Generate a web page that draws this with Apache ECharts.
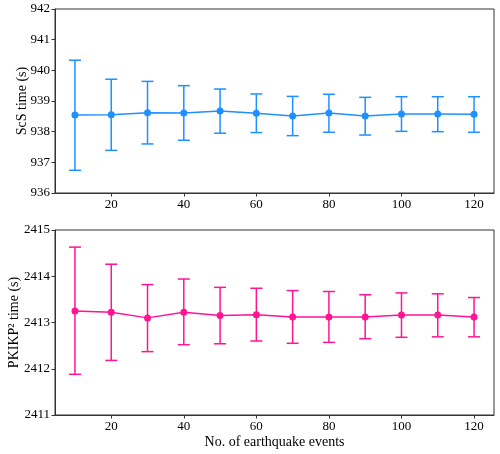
<!DOCTYPE html>
<html>
<head>
<meta charset="utf-8">
<script src="https://cdn.jsdelivr.net/npm/echarts@6/dist/echarts.min.js"></script>
<style>html,body{margin:0;padding:0;background:#fff;}#c{width:500px;height:454px;}</style>
</head>
<body>
<div id="c"></div>
<script>
var events = [10, 20, 30, 40, 50, 60, 70, 80, 90, 100, 110, 120];
var xTicks = [20, 40, 60, 80, 100, 120];
var scsMean = [938.54, 938.55, 938.62, 938.61, 938.67, 938.60, 938.51, 938.61, 938.51, 938.58, 938.58, 938.57];
var scsLow  = [936.74, 937.39, 937.60, 937.72, 937.95, 937.97, 937.87, 937.98, 937.89, 938.01, 938.00, 937.98];
var scsHigh = [940.33, 939.71, 939.64, 939.50, 939.39, 939.23, 939.15, 939.22, 939.12, 939.14, 939.14, 939.14];
var pkMean = [2413.25, 2413.22, 2413.10, 2413.22, 2413.15, 2413.17, 2413.12, 2413.12, 2413.12, 2413.16, 2413.16, 2413.12];
var pkLow  = [2411.88, 2412.18, 2412.37, 2412.52, 2412.54, 2412.60, 2412.55, 2412.57, 2412.65, 2412.68, 2412.69, 2412.69];
var pkHigh = [2414.63, 2414.26, 2413.82, 2413.94, 2413.76, 2413.74, 2413.69, 2413.67, 2413.60, 2413.64, 2413.62, 2413.54];

var BLUE = '#1E90FF', PINK = '#FF1493';
var FONT = 'Liberation Serif';

function errData(lo, hi) {
  return events.map(function (x, i) { return [x, lo[i], hi[i]]; });
}
function lineData(m) {
  return events.map(function (x, i) { return [x, m[i]]; });
}
function errSeries(idx, data, color) {
  return {
    type: 'custom', xAxisIndex: idx, yAxisIndex: idx, data: data,
    encode: { x: 0, y: [1, 2] }, silent: true, z: 2,
    renderItem: function (params, api) {
      var x = api.value(0);
      var p1 = api.coord([x, api.value(1)]);
      var p2 = api.coord([x, api.value(2)]);
      var hw = 6;
      var st = { stroke: color, lineWidth: 1.5 };
      return {
        type: 'group',
        children: [
          { type: 'line', shape: { x1: p1[0], y1: p1[1], x2: p2[0], y2: p2[1] }, style: st },
          { type: 'line', shape: { x1: p1[0] - hw, y1: p1[1], x2: p1[0] + hw, y2: p1[1] }, style: st },
          { type: 'line', shape: { x1: p2[0] - hw, y1: p2[1], x2: p2[0] + hw, y2: p2[1] }, style: st }
        ]
      };
    }
  };
}
function plain(v) { return String(v); }
function xAxis(idx, withName) {
  var a = {
    type: 'value', gridIndex: idx, min: 4.5, max: 125.5,
    splitLine: { show: false },
    axisLine: { lineStyle: { color: '#333', width: 1 } },
    axisTick: { customValues: xTicks, length: 3.5, lineStyle: { color: '#333' } },
    axisLabel: { customValues: xTicks, color: '#000', fontFamily: FONT, fontSize: 13, margin: 5, formatter: plain }
  };
  if (withName) {
    a.name = 'No. of earthquake events';
    a.nameLocation = 'middle';
    a.nameGap = 20;
    a.nameMoveOverlap = false;
    a.nameTextStyle = { color: '#000', fontFamily: FONT, fontSize: 14 };
  }
  return a;
}
function yAxis(idx, min, max, name, gap) {
  return {
    type: 'value', gridIndex: idx, min: min, max: max, interval: 1,
    splitLine: { show: false },
    axisLine: { show: true, lineStyle: { color: '#333', width: 1 } },
    axisTick: { show: true, length: 3.5, lineStyle: { color: '#333' } },
    axisLabel: { color: '#000', fontFamily: FONT, fontSize: 13, margin: 5, formatter: plain },
    name: name, nameLocation: 'middle', nameGap: gap, nameRotate: 90, nameMoveOverlap: false,
    nameTextStyle: { color: '#000', fontFamily: FONT, fontSize: 14 }
  };
}

var chart = echarts.init(document.getElementById('c'), null, { renderer: 'canvas' });
chart.setOption({
  animation: false,
  backgroundColor: '#fff',
  grid: [
    { left: 55, right: 6, top: 9, height: 184, show: true, borderColor: '#333', borderWidth: 1, backgroundColor: 'transparent', outerBoundsMode: 'none', containLabel: false },
    { left: 55, right: 6, top: 230, height: 185, show: true, borderColor: '#333', borderWidth: 1, backgroundColor: 'transparent', outerBoundsMode: 'none', containLabel: false }
  ],
  xAxis: [xAxis(0, false), xAxis(1, true)],
  yAxis: [
    yAxis(0, 936, 942, 'ScS time (s)', 26),
    yAxis(1, 2411, 2415, 'PKIKP\u00B2 time (s)', 34)
  ],
  series: [
    errSeries(0, errData(scsLow, scsHigh), BLUE),
    { type: 'line', xAxisIndex: 0, yAxisIndex: 0, data: lineData(scsMean), symbol: 'circle', symbolSize: 7,
      lineStyle: { color: BLUE, width: 1.5 }, itemStyle: { color: BLUE }, z: 3 },
    errSeries(1, errData(pkLow, pkHigh), PINK),
    { type: 'line', xAxisIndex: 1, yAxisIndex: 1, data: lineData(pkMean), symbol: 'circle', symbolSize: 7,
      lineStyle: { color: PINK, width: 1.5 }, itemStyle: { color: PINK }, z: 3 }
  ]
});
</script>
</body>
</html>
